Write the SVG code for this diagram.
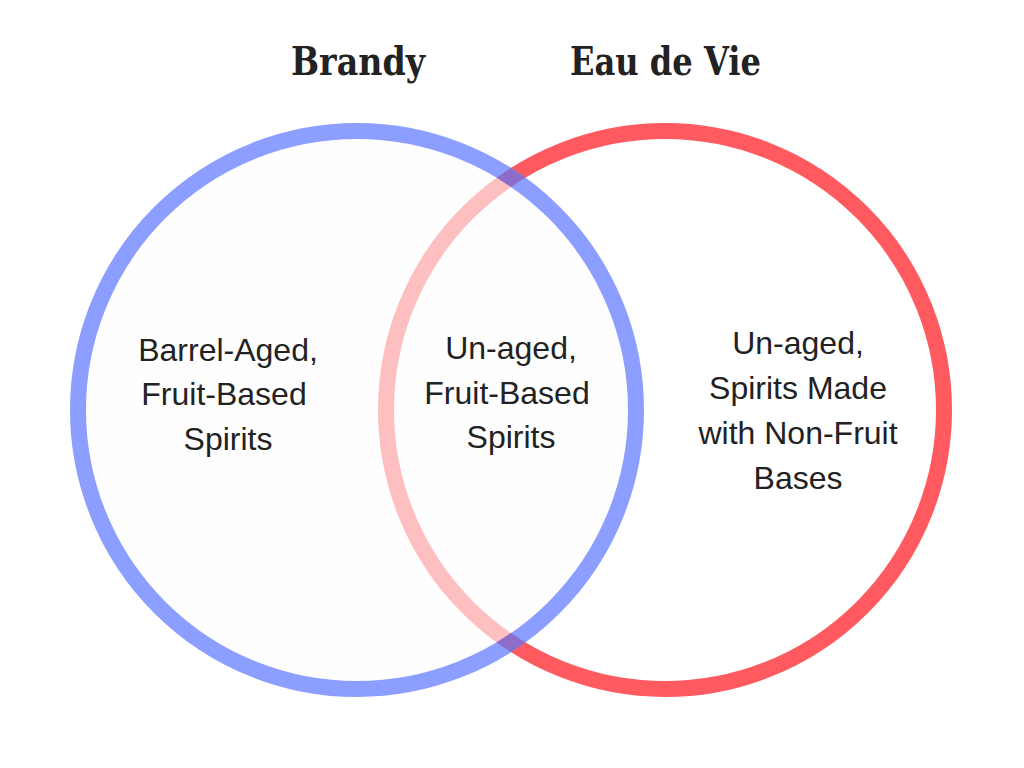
<svg xmlns="http://www.w3.org/2000/svg" width="1024" height="768" viewBox="0 0 1024 768">
<style>
.title{font-family:"DejaVu Serif","Liberation Serif",serif;font-weight:bold;font-size:40px;fill:#222222}
.label{font-family:"Liberation Sans",Arial,sans-serif;font-size:32px;fill:#222222;text-anchor:middle}
.ring{fill:none;stroke-width:16}
</style>
<defs>
<mask id="redRing" maskUnits="userSpaceOnUse" x="0" y="0" width="1024" height="768">
<circle cx="665" cy="410" r="279" fill="none" stroke="#fff" stroke-width="16"/>
</mask>
</defs>
<rect width="1024" height="768" fill="#ffffff"/>
<g id="eau-de-vie">
<circle class="ring" cx="665" cy="410" r="279" stroke="#FF5A5F"/>
</g>
<g id="brandy">
<circle cx="357" cy="410" r="279" fill="#FDFDFD" fill-opacity="0.62" stroke="none"/>
<circle class="ring" cx="357" cy="410" r="279" stroke="#8C9EFF"/>
<circle class="ring" cx="357" cy="410" r="279" stroke="#8C6EC8" mask="url(#redRing)"/>
</g>
<g id="titles">
<text class="title" x="291" y="75" textLength="134" lengthAdjust="spacingAndGlyphs">Brandy</text>
<text class="title" x="570" y="75" textLength="191" lengthAdjust="spacingAndGlyphs">Eau de Vie</text>
</g>
<g id="left-label">
<text class="label" x="228" y="361">Barrel-Aged,</text>
<text class="label" x="224" y="405">Fruit-Based</text>
<text class="label" x="228" y="450">Spirits</text>
</g>
<g id="middle-label">
<text class="label" x="511" y="359">Un-aged,</text>
<text class="label" x="507" y="404">Fruit-Based</text>
<text class="label" x="511" y="448">Spirits</text>
</g>
<g id="right-label">
<text class="label" x="798" y="354">Un-aged,</text>
<text class="label" x="798" y="399">Spirits Made</text>
<text class="label" x="798" y="444">with Non-Fruit</text>
<text class="label" x="798" y="489">Bases</text>
</g>
<g id="connectors"></g>
</svg>
